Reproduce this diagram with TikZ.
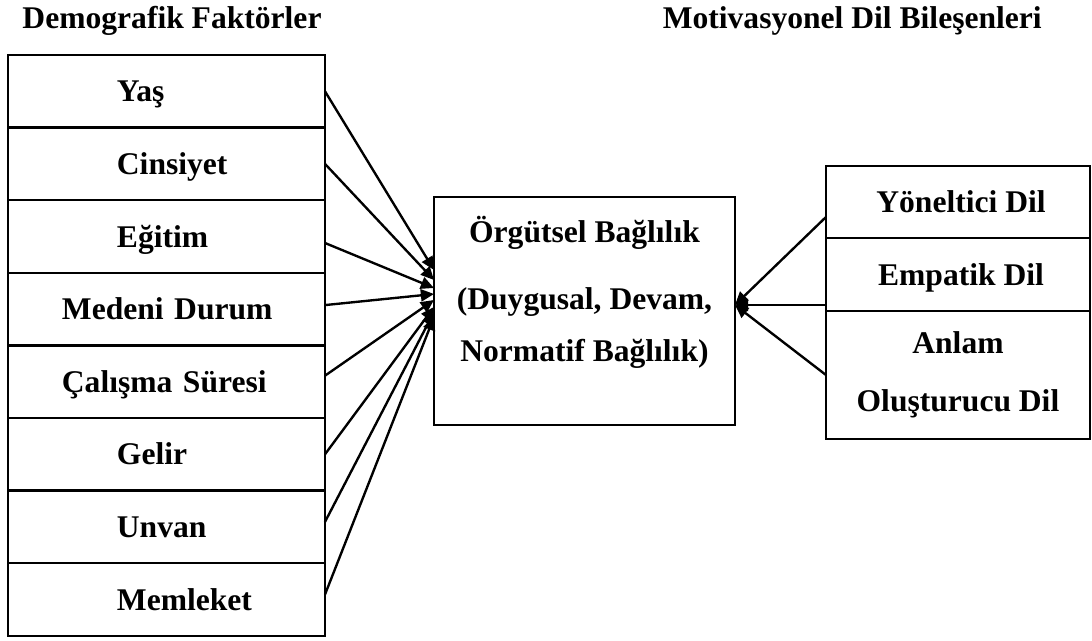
\documentclass[tikz,border=0pt]{standalone}
\usepackage{fontspec}
\setmainfont{Liberation Serif}
\usepackage{tikz}
\usetikzlibrary{arrows.meta, positioning}

\newcommand{\pxu}{0.38pt}

\begin{document}
\begin{tikzpicture}[
  x=\pxu, y=-\pxu,
  every node/.style={font=\fontsize{12}{14}\selectfont\bfseries},
  cell/.style={draw, line width=0.9pt, outer sep=0pt, inner sep=0pt,
               minimum width=317*\pxu, minimum height=72.6*\pxu,
               text width=120.46pt, align=left,
               text height=8pt, text depth=0pt,
               execute at begin node={\noindent\hspace*{#1}}},
  cell/.default=41.4pt,
  rcell/.style={draw, line width=0.9pt, outer sep=0pt, inner sep=0pt,
                minimum width=264*\pxu, text height=8pt, text depth=0pt},
  bigcell/.style={draw, line width=0.9pt, outer sep=0pt, inner sep=0pt,
                  align=center},
  arr/.style={-{Triangle[length=5pt, width=4.6pt]}, line width=0.9pt},
]
  \useasboundingbox (0,0) rectangle (1092,641);

  % Titles
  \node[anchor=base] (demtitle) at (172,29) {Demografik Faktörler};
  \node[anchor=base east] (mottitle) at (1051,29) {Motivasyonel Dil Bileşenleri};

  % Demographic factors
  \node[cell] (yas) at (166.5,91.3) {Yaş};
  \node[cell, below=0pt of yas]  (cins) {Cinsiyet};
  \node[cell, below=0pt of cins] (egt)  {Eğitim};
  \node[cell=20.5pt, below=0pt of egt] (med) {Medeni Durum};
  \node[cell=20.5pt, below=0pt of med] (cal) {Çalışma Süresi};
  \node[cell, below=0pt of cal]  (gel)  {Gelir};
  \node[cell, below=0pt of gel]  (unv)  {Unvan};
  \node[cell, below=0pt of unv]  (mem)  {Memleket};

  % Organisational commitment
  \node[bigcell, minimum width=301*\pxu, minimum height=228*\pxu]
        (org) at (584.5,311) {};
  \node[align=center, font=\fontsize{12}{19.8}\selectfont\bfseries]
        (orgtxt) at (584.5,292)
        {Örgütsel Bağlılık\\[5.7pt](Duygusal, Devam,\\Normatif Bağlılık)};

  % Motivating language
  \node[rcell, minimum height=72*\pxu] (yon) at (958,202)
        {\hspace*{2.3pt}Yöneltici Dil};
  \node[rcell, minimum height=73*\pxu, below=0pt of yon] (emp)
        {\hspace*{2.3pt}Empatik Dil};
  \node[bigcell, minimum width=264*\pxu, minimum height=128*\pxu,
        font=\fontsize{12}{22}\selectfont\bfseries, below=0pt of emp]
        (anl) {Anlam\\Oluşturucu Dil};

  \draw[arr] (yas.east) -- ([yshift=41*\pxu]org.west);
  \draw[arr] (cins.east) -- ([yshift=31*\pxu]org.west);
  \draw[arr] ([yshift=-6.5*\pxu]egt.east) -- ([yshift=23*\pxu]org.west);
  \draw[arr] ([yshift=4*\pxu]med.east) -- ([yshift=17*\pxu]org.west);
  \draw[arr] ([yshift=6*\pxu]cal.east) -- ([yshift=11*\pxu]org.west);
  \draw[arr] (gel.east) -- ([yshift=4*\pxu]org.west);
  \draw[arr] ([yshift=5*\pxu]unv.east) -- ([yshift=-1*\pxu]org.west);
  \draw[arr] ([yshift=5*\pxu]mem.east) -- ([yshift=-6*\pxu]org.west);

  \draw[arr] ([yshift=-15*\pxu]yon.west) -- ([yshift=6*\pxu]org.east);
  \draw[arr] ([yshift=-30.5*\pxu]emp.west) -- ([yshift=6*\pxu]org.east);
  \draw[arr] (anl.west) -- ([yshift=6*\pxu]org.east);
\end{tikzpicture}
\end{document}
